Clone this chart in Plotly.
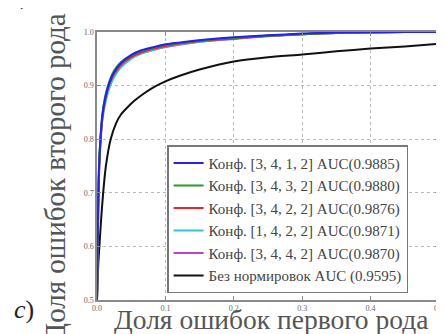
import plotly.graph_objects as go

# ---- data ----
fpr_conf = [0, 0.001, 0.002, 0.003, 0.005, 0.008, 0.012, 0.018, 0.025, 0.035, 0.05,
            0.065, 0.08, 0.1, 0.13, 0.16, 0.2, 0.25, 0.3, 0.35, 0.4, 0.45, 0.5]
tpr_3412 = [0.5, 0.62, 0.70, 0.75, 0.80, 0.846, 0.877, 0.905, 0.925, 0.942, 0.957,
            0.966, 0.971, 0.977, 0.982, 0.986, 0.990, 0.994, 0.997, 0.999, 1.0, 1.0, 1.0]
tpr_3432 = [0.5, 0.61, 0.69, 0.745, 0.80, 0.848, 0.880, 0.908, 0.928, 0.944, 0.957,
            0.965, 0.970, 0.976, 0.981, 0.985, 0.989, 0.993, 0.996, 0.998, 0.999, 1.0, 1.0]
tpr_3422 = [0.5, 0.60, 0.68, 0.74, 0.795, 0.842, 0.874, 0.902, 0.922, 0.939, 0.953,
            0.962, 0.968, 0.974, 0.980, 0.984, 0.988, 0.993, 0.996, 0.998, 0.999, 1.0, 1.0]
tpr_1422 = [0.5, 0.63, 0.71, 0.755, 0.80, 0.838, 0.866, 0.895, 0.916, 0.934, 0.950,
            0.960, 0.966, 0.973, 0.979, 0.983, 0.988, 0.993, 0.996, 0.998, 0.999, 1.0, 1.0]
tpr_3442 = [0.5, 0.60, 0.68, 0.735, 0.79, 0.840, 0.872, 0.900, 0.920, 0.937, 0.951,
            0.960, 0.966, 0.972, 0.978, 0.983, 0.987, 0.992, 0.996, 0.998, 0.999, 1.0, 1.0]

fpr_base = [0, 0.001, 0.002, 0.004, 0.006, 0.009, 0.013, 0.02, 0.028, 0.035, 0.045,
            0.055, 0.066, 0.08, 0.1, 0.12, 0.15, 0.2, 0.25, 0.3, 0.35, 0.4, 0.45, 0.5]
tpr_base = [0.5, 0.54, 0.57, 0.61, 0.65, 0.70, 0.75, 0.80, 0.83, 0.846, 0.86,
            0.872, 0.883, 0.895, 0.908, 0.918, 0.930, 0.945, 0.953, 0.958, 0.964,
            0.969, 0.973, 0.978]

series_names = [
    "Конф. [3, 4, 1, 2] AUC(0.9885)",
    "Конф. [3, 4, 3, 2] AUC(0.9880)",
    "Конф. [3, 4, 2, 2] AUC(0.9876)",
    "Конф. [1, 4, 2, 2] AUC(0.9871)",
    "Конф. [3, 4, 4, 2] AUC(0.9870)",
    "Без нормировок AUC (0.9595)",
]
series_x = [fpr_conf, fpr_conf, fpr_conf, fpr_conf, fpr_conf, fpr_base]
series_y = [tpr_3412, tpr_3432, tpr_3422, tpr_1422, tpr_3442, tpr_base]
colors = ["#2222ee", "#2a9a2a", "#e8262a", "#30c8c8", "#bb44bb", "#111111"]

x_ticks = [0.0, 0.1, 0.2, 0.3, 0.4, 0.5]
y_ticks = [0.5, 0.6, 0.7, 0.8, 0.9, 1.0]

SERIF = "Liberation Serif"

fig = go.Figure()
# draw in reverse so blue is on top, but keep legend order
order = [5, 4, 3, 2, 1, 0]
for i in order:
    fig.add_trace(go.Scatter(
        x=series_x[i], y=series_y[i], mode="lines", name=series_names[i],
        line=dict(color=colors[i], width=2, shape="spline", smoothing=0.6),
        legendrank=i + 1,
    ))

axis_common = dict(
    showgrid=True, gridcolor="#b8b8b8", griddash="dot", gridwidth=1,
    zeroline=False, showline=True, linecolor="#8a8a8a", linewidth=1.5,
    mirror="allticks", ticks="inside", ticklen=4, tickcolor="#8a8a8a",
    tickfont=dict(family=SERIF, size=8, color="#666666"),
)

fig.update_layout(
    width=444, height=334,
    margin=dict(l=89, r=8, t=24, b=42),
    paper_bgcolor="white", plot_bgcolor="white",
    showlegend=True,
    legend=dict(
        x=0.205, y=0.025, xanchor="left", yanchor="bottom",
        bgcolor="white", bordercolor="#777777", borderwidth=1.5,
        font=dict(family=SERIF, size=15, color="#444444"),
        tracegroupgap=0, itemwidth=30,
    ),
    xaxis=dict(range=[0, 0.5], tickvals=x_ticks,
               ticktext=[f"{v:.1f}" for v in x_ticks], **axis_common),
    yaxis=dict(range=[0.5, 1.0], tickvals=y_ticks,
               ticktext=[f"{v:.1f}" for v in y_ticks], **axis_common),
    annotations=[
        dict(text="Доля ошибок первого рода", xref="paper", yref="paper",
             x=0.508, y=-0.072, xanchor="center", yanchor="middle", showarrow=False,
             font=dict(family=SERIF, size=27.5, color="#555555")),
        dict(text="Доля ошибок второго рода", xref="paper", yref="paper",
             x=-0.124, y=0.455, xanchor="center", yanchor="middle", showarrow=False,
             textangle=-90, font=dict(family=SERIF, size=29, color="#555555")),
        dict(text="<i>c</i>)", xref="paper", yref="paper",
             x=-0.25, y=-0.035, xanchor="left", yanchor="middle", showarrow=False,
             font=dict(family=SERIF, size=26, color="#222222")),
        dict(text="<i>b</i>)", xref="paper", yref="paper",
             x=-0.27, y=1.075, xanchor="left", yanchor="bottom", showarrow=False,
             font=dict(family=SERIF, size=26, color="#222222")),
    ],
)

fig.write_html("out.html")
